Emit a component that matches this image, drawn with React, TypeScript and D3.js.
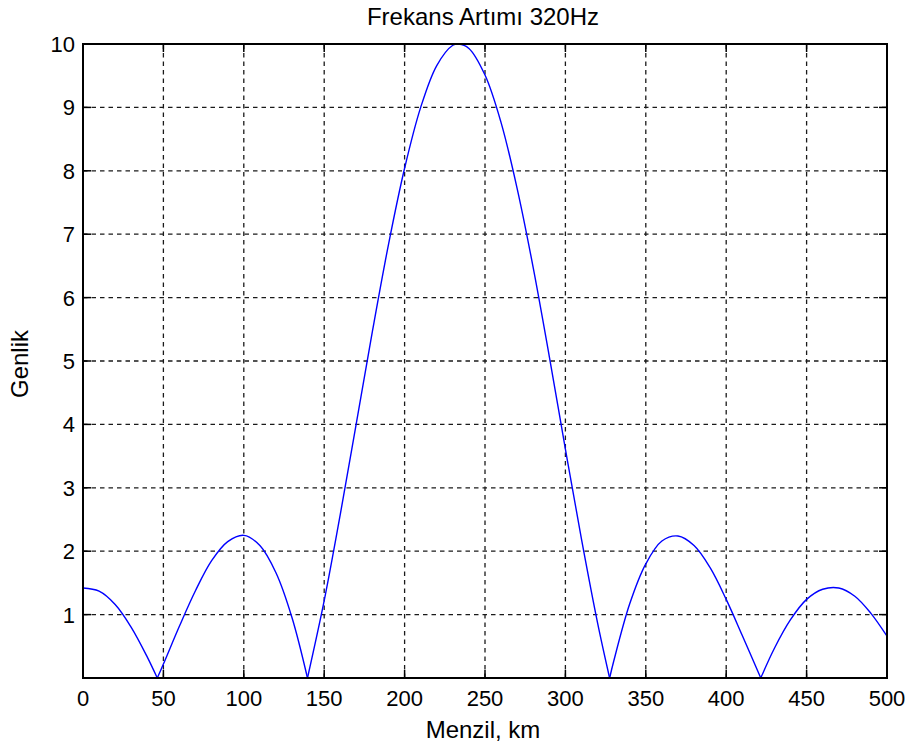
import React from "react";
import * as d3 from "d3";

// Range samples (km) and the amplitude read at each of them
const rangeKm = [
  0, 10, 20, 30, 40, 46.2, 50, 60, 70, 80, 90, 100, 110, 120, 130, 139.6,
  150, 160, 170, 180, 190, 200, 210, 220, 230, 233.6, 240, 250, 260, 270,
  280, 290, 300, 310, 320, 327.5, 330, 340, 350, 360, 370, 380, 390, 400,
  410, 421.5, 430, 440, 450, 460, 470, 480, 490, 500,
];
const amplitude = [
  1.42, 1.37, 1.16, 0.8, 0.33, 0, 0.22, 0.82, 1.38, 1.85, 2.15, 2.25, 2.09,
  1.66, 0.95, 0, 1.22, 2.58, 4.02, 5.47, 6.84, 8.04, 9.0, 9.66, 9.98, 10.0,
  9.93, 9.51, 8.76, 7.72, 6.47, 5.07, 3.61, 2.19, 0.87, 0, 0.26, 1.17, 1.8,
  2.16, 2.24, 2.09, 1.74, 1.24, 0.67, 0, 0.47, 0.92, 1.24, 1.4, 1.42, 1.29,
  1.02, 0.66,
];

const xTicks = [0, 50, 100, 150, 200, 250, 300, 350, 400, 450, 500];
const yTicks = [1, 2, 3, 4, 5, 6, 7, 8, 9, 10];

const titleText = "Frekans Artımı 320Hz";
const xLabelText = "Menzil, km";
const yLabelText = "Genlik";

const W = 912;
const H = 749;
const plot = { left: 83, right: 887, top: 44, bottom: 678 };
const FONT = "'Liberation Sans', Arial, sans-serif";
const TICK_LEN = 8;

export default function App() {
  const x = d3.scaleLinear().domain([0, 500]).range([plot.left, plot.right]);
  const y = d3.scaleLinear().domain([0, 10]).range([plot.bottom, plot.top]);

  const points: [number, number][] = rangeKm.map((r, i) => [r, amplitude[i]]);

  // split the curve at each null so the cusps stay sharp
  const lobes: [number, number][][] = [];
  let current: [number, number][] = [];
  points.forEach((p, i) => {
    current.push(p);
    if (p[1] === 0 && i > 0 && i < points.length - 1) {
      lobes.push(current);
      current = [p];
    }
  });
  if (current.length) lobes.push(current);

  const line = d3
    .line<[number, number]>()
    .x((d) => x(d[0]))
    .y((d) => y(d[1]))
    .curve(d3.curveCatmullRom.alpha(0.5));

  return (
    <svg
      width={W}
      height={H}
      style={{ position: "absolute", left: 0, top: 0, background: "#fff" }}
      fontFamily={FONT}
    >
      <rect x={0} y={0} width={W} height={H} fill="#fff" />

      {/* grid */}
      <g stroke="#1a1a1a" strokeWidth={1.3} strokeDasharray="4.5,4" fill="none">
        {xTicks.map((t) => (
          <line key={"gx" + t} x1={x(t)} x2={x(t)} y1={plot.bottom} y2={plot.top} />
        ))}
        {yTicks.map((t) => (
          <line key={"gy" + t} x1={plot.left} x2={plot.right} y1={y(t)} y2={y(t)} />
        ))}
      </g>

      {/* curve */}
      <g fill="none" stroke="#0000ff" strokeWidth={1.4} strokeLinejoin="round">
        {lobes.map((seg, i) => (
          <path key={i} d={line(seg) || ""} />
        ))}
      </g>

      {/* ticks, inward on all four sides */}
      <g stroke="#000" strokeWidth={1.5}>
        {xTicks.map((t) => (
          <g key={"tx" + t}>
            <line x1={x(t)} x2={x(t)} y1={plot.bottom} y2={plot.bottom - TICK_LEN} />
            <line x1={x(t)} x2={x(t)} y1={plot.top} y2={plot.top + TICK_LEN} />
          </g>
        ))}
        {yTicks.map((t) => (
          <g key={"ty" + t}>
            <line x1={plot.left} x2={plot.left + TICK_LEN} y1={y(t)} y2={y(t)} />
            <line x1={plot.right} x2={plot.right - TICK_LEN} y1={y(t)} y2={y(t)} />
          </g>
        ))}
      </g>

      {/* frame */}
      <rect
        x={plot.left}
        y={plot.top}
        width={plot.right - plot.left}
        height={plot.bottom - plot.top}
        fill="none"
        stroke="#000"
        strokeWidth={2}
      />

      {/* tick labels */}
      <g fontSize={22} fill="#000">
        {xTicks.map((t) => (
          <text key={"lx" + t} x={x(t)} y={706} textAnchor="middle">
            {t}
          </text>
        ))}
        {yTicks.map((t) => (
          <text key={"ly" + t} x={75} y={y(t)} dy="0.36em" textAnchor="end">
            {t}
          </text>
        ))}
      </g>

      <text x={483} y={25} textAnchor="middle" fontSize={24} fill="#000">
        {titleText}
      </text>
      <text x={483} y={738} textAnchor="middle" fontSize={24} fill="#000">
        {xLabelText}
      </text>
      <text
        transform="translate(28,364) rotate(-90)"
        textAnchor="middle"
        fontSize={24}
        fill="#000"
      >
        {yLabelText}
      </text>
    </svg>
  );
}
